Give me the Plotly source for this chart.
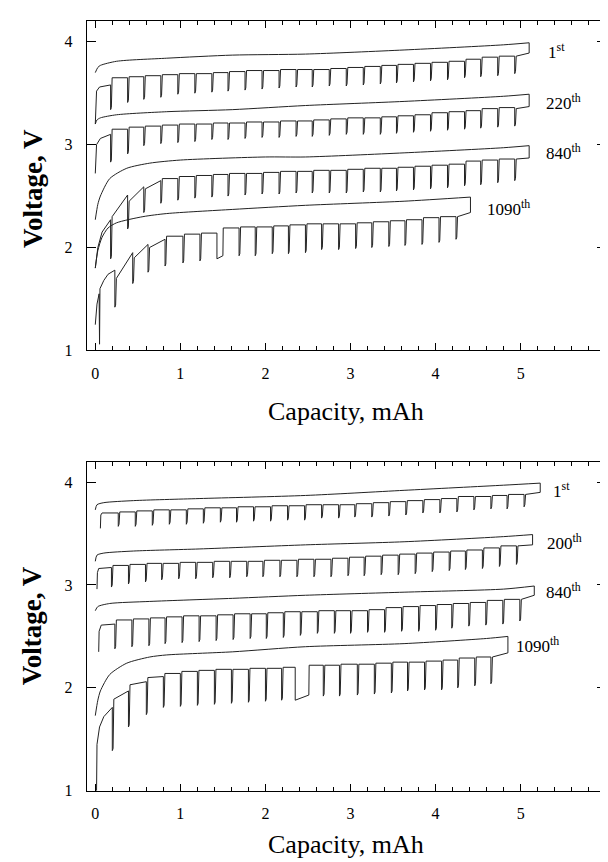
import plotly.graph_objects as go

# ---------------- DATA ----------------
# ---- top panel ----
top_teeth = [0.18, 0.38, 0.57, 0.77, 0.97, 1.17, 1.37, 1.56, 1.76, 1.96, 2.16, 2.36, 2.55,
             2.75, 2.95, 3.15, 3.35, 3.54, 3.74, 3.94, 4.14, 4.34, 4.53, 4.73, 4.93]

t1_up_x = [0, 0.03, 0.06, 0.25, 0.84, 1.61, 2.47, 3.63, 4.8, 5.1]
t1_up_v = [3.70, 3.75, 3.77, 3.81, 3.84, 3.87, 3.88, 3.92, 3.97, 3.99]
t1_start_x = [0.0, 0.005, 0.015, 0.05, 0.18]
t1_start_v = [3.20, 3.40, 3.52, 3.56, 3.58]
t1_top = [3.58, 3.65, 3.66, 3.67, 3.68, 3.69, 3.69, 3.70, 3.71, 3.72, 3.72, 3.73, 3.73,
          3.73, 3.74, 3.75, 3.76, 3.77, 3.78, 3.79, 3.80, 3.81, 3.83, 3.85, 3.86]
t1_bot = [3.34, 3.41, 3.44, 3.46, 3.49, 3.50, 3.51, 3.52, 3.53, 3.54, 3.55, 3.56, 3.56,
          3.57, 3.57, 3.58, 3.59, 3.60, 3.61, 3.62, 3.63, 3.65, 3.66, 3.67, 3.69]
t1_fin = [3.86, 3.89]

t220_up_x = [0, 0.02, 0.06, 0.25, 0.84, 1.61, 2.47, 3.63, 4.8, 5.1]
t220_up_v = [3.20, 3.24, 3.26, 3.29, 3.32, 3.34, 3.38, 3.42, 3.47, 3.49]
t220_start_x = [0.0, 0.005, 0.015, 0.06, 0.18]
t220_start_v = [2.72, 2.90, 3.00, 3.06, 3.10]
t220_top = [3.10, 3.15, 3.17, 3.18, 3.19, 3.20, 3.20, 3.21, 3.21, 3.22, 3.22, 3.23, 3.23,
            3.24, 3.25, 3.26, 3.26, 3.27, 3.28, 3.29, 3.31, 3.32, 3.33, 3.35, 3.36]
t220_bot = [2.83, 2.91, 2.99, 3.01, 3.02, 3.03, 3.05, 3.05, 3.06, 3.07, 3.07, 3.08, 3.08,
            3.09, 3.10, 3.10, 3.10, 3.11, 3.12, 3.13, 3.14, 3.15, 3.16, 3.17, 3.18]
t220_fin = [3.35, 3.37]

t840_up_x = [0, 0.03, 0.06, 0.17, 0.37, 0.64, 1.0, 2.0, 2.47, 3.63, 4.8, 5.1]
t840_up_v = [2.27, 2.42, 2.50, 2.67, 2.77, 2.82, 2.85, 2.88, 2.88, 2.92, 2.97, 2.99]
t840_start_x = [0.0, 0.03, 0.08, 0.18]
t840_start_v = [1.80, 2.00, 2.15, 2.27]
t840_top = [2.27, 2.51, 2.59, 2.65, 2.67, 2.69, 2.70, 2.71, 2.72, 2.72, 2.73, 2.74, 2.74,
            2.75, 2.75, 2.76, 2.77, 2.77, 2.78, 2.79, 2.80, 2.81, 2.84, 2.85, 2.86]
t840_bot = [1.89, 2.18, 2.34, 2.43, 2.46, 2.48, 2.49, 2.50, 2.51, 2.52, 2.52, 2.53, 2.53,
            2.53, 2.53, 2.54, 2.54, 2.55, 2.56, 2.57, 2.58, 2.60, 2.61, 2.63, 2.65]
t840_rise = [2.30, 2.45, 2.57]
t840_fin = [2.86, 2.87]

t1090_teeth = [0.23, 0.44, 0.62, 0.82, 1.03, 1.23, 1.43, 1.69, 1.88, 2.08, 2.27, 2.47,
               2.66, 2.86, 3.06, 3.25, 3.45, 3.64, 3.84, 4.04, 4.24]
t1090_up_x = [0, 0.03, 0.08, 0.15, 0.25, 0.56, 0.84, 1.61, 2.47, 3.63, 4.41]
t1090_up_v = [1.80, 1.97, 2.10, 2.19, 2.24, 2.30, 2.33, 2.37, 2.41, 2.45, 2.49]
t1090_start_x = [0.0, 0.02, 0.045, 0.05, 0.055, 0.1, 0.15, 0.23]
t1090_start_v = [1.25, 1.45, 1.55, 1.06, 1.60, 1.68, 1.74, 1.78]
t1090_top = [1.78, 1.95, 2.03, 2.08, 2.11, 2.13, 2.14, 2.19, 2.20, 2.20, 2.21, 2.22,
             2.23, 2.23, 2.23, 2.24, 2.25, 2.26, 2.27, 2.29, 2.30]
t1090_bot = [1.42, 1.65, 1.76, 1.82, 1.85, 1.87, 1.89, 1.92, 1.92, 1.94, 1.94, 1.95,
             1.98, 1.98, 1.99, 2.00, 2.01, 2.02, 2.03, 2.05, 2.08]
t1090_rise = [1.70, 1.90, 2.00]
t1090_gap = [6, 1.50, 1.92]          # tooth index, x and voltage where it recovers
t1090_fin = [2.30, 2.34]

# ---- bottom panel ----
b1_teeth = [0.27, 0.47, 0.67, 0.87, 1.07, 1.27, 1.47, 1.66, 1.86, 2.06, 2.26, 2.46, 2.66,
            2.86, 3.05, 3.25, 3.45, 3.65, 3.85, 4.05, 4.25, 4.45, 4.65, 4.84, 5.04]
b1_up_x = [0, 0.02, 0.1, 0.45, 1.22, 2.47, 3.63, 4.8, 5.23]
b1_up_v = [3.73, 3.78, 3.80, 3.82, 3.84, 3.87, 3.92, 3.97, 3.99]
b1_start_x = [0.06, 0.065, 0.08, 0.27]
b1_start_v = [3.55, 3.68, 3.70, 3.70]
b1_top = [3.70, 3.71, 3.72, 3.73, 3.73, 3.74, 3.75, 3.75, 3.76, 3.76, 3.77, 3.77, 3.78,
          3.78, 3.78, 3.79, 3.80, 3.81, 3.82, 3.83, 3.84, 3.86, 3.86, 3.87, 3.88]
b1_bot = [3.57, 3.57, 3.58, 3.59, 3.59, 3.60, 3.61, 3.61, 3.62, 3.62, 3.63, 3.63, 3.65,
          3.65, 3.66, 3.66, 3.67, 3.68, 3.70, 3.70, 3.71, 3.73, 3.74, 3.74, 3.76]
b1_fin = [3.88, 3.90]

b200_teeth = [0.19, 0.39, 0.59, 0.78, 0.98, 1.18, 1.38, 1.58, 1.78, 1.97, 2.17, 2.37, 2.57,
              2.77, 2.97, 3.16, 3.36, 3.56, 3.76, 3.96, 4.16, 4.35, 4.55, 4.75, 4.95]
b200_up_x = [0, 0.02, 0.1, 0.45, 1.22, 2.47, 3.63, 4.8, 5.14]
b200_up_v = [3.23, 3.29, 3.31, 3.33, 3.35, 3.39, 3.42, 3.47, 3.49]
b200_start_x = [0.02, 0.025, 0.04, 0.19]
b200_start_v = [2.96, 3.12, 3.16, 3.17]
b200_top = [3.17, 3.19, 3.20, 3.21, 3.21, 3.22, 3.22, 3.23, 3.23, 3.23, 3.24, 3.24, 3.25,
            3.25, 3.26, 3.27, 3.28, 3.29, 3.30, 3.31, 3.32, 3.33, 3.34, 3.36, 3.38]
b200_bot = [2.98, 3.01, 3.03, 3.05, 3.06, 3.06, 3.07, 3.07, 3.08, 3.08, 3.08, 3.08, 3.08,
            3.08, 3.09, 3.09, 3.10, 3.10, 3.11, 3.13, 3.14, 3.15, 3.16, 3.18, 3.20]
b200_fin = [3.38, 3.39]

b840_teeth = [0.23, 0.43, 0.63, 0.82, 1.02, 1.22, 1.42, 1.62, 1.82, 2.01, 2.21, 2.41, 2.61,
              2.81, 3.00, 3.20, 3.40, 3.60, 3.80, 4.00, 4.19, 4.39, 4.59, 4.79, 4.99]
b840_up_x = [0, 0.03, 0.17, 0.64, 1.61, 2.47, 3.63, 4.8, 5.16]
b840_up_v = [2.75, 2.79, 2.82, 2.84, 2.87, 2.90, 2.93, 2.96, 2.99]
b840_start_x = [0.04, 0.045, 0.07, 0.23]
b840_start_v = [2.35, 2.55, 2.61, 2.62]
b840_top = [2.62, 2.66, 2.67, 2.68, 2.69, 2.70, 2.70, 2.71, 2.72, 2.72, 2.73, 2.74, 2.74,
            2.75, 2.75, 2.75, 2.76, 2.78, 2.79, 2.80, 2.81, 2.82, 2.83, 2.85, 2.86]
b840_bot = [2.38, 2.40, 2.41, 2.43, 2.44, 2.45, 2.46, 2.47, 2.48, 2.48, 2.49, 2.51, 2.53,
            2.53, 2.53, 2.54, 2.54, 2.55, 2.55, 2.56, 2.58, 2.60, 2.61, 2.62, 2.65]
b840_fin = [2.86, 2.90]

b1090_teeth = [0.20, 0.39, 0.60, 0.80, 1.00, 1.20, 1.40, 1.60, 1.80, 2.00, 2.19, 2.35,
               2.68, 2.87, 3.08, 3.28, 3.48, 3.67, 3.87, 4.07, 4.26, 4.46, 4.65]
b1090_up_x = [0, 0.03, 0.06, 0.17, 0.37, 0.64, 0.84, 1.61, 2.47, 3.63, 4.6, 4.85]
b1090_up_v = [1.73, 1.88, 1.97, 2.13, 2.24, 2.30, 2.32, 2.35, 2.40, 2.43, 2.48, 2.50]
b1090_start_x = [0.015, 0.02, 0.05, 0.1, 0.2]
b1090_start_v = [1.0, 1.45, 1.62, 1.72, 1.81]
b1090_top = [1.81, 1.97, 2.06, 2.11, 2.14, 2.16, 2.17, 2.18, 2.18, 2.19, 2.19, 2.20,
             2.22, 2.22, 2.23, 2.23, 2.24, 2.25, 2.25, 2.26, 2.27, 2.29, 2.30]
b1090_bot = [1.39, 1.62, 1.74, 1.81, 1.82, 1.83, 1.84, 1.85, 1.86, 1.87, 1.88, 1.88,
             1.92, 1.92, 1.93, 1.94, 1.95, 1.97, 1.98, 1.98, 2.00, 2.02, 2.04]
b1090_rise = [1.89, 2.03, 2.10]
b1090_gap = [11, 2.51, 1.93]
b1090_fin = [2.30, 2.34]

top_labels = ["1<sup>st</sup>", "220<sup>th</sup>", "840<sup>th</sup>", "1090<sup>th</sup>"]
top_label_x = [5.30, 5.28, 5.27, 4.58]
top_label_v = [3.91, 3.41, 2.93, 2.38]
bot_labels = ["1<sup>st</sup>", "200<sup>th</sup>", "840<sup>th</sup>", "1090<sup>th</sup>"]
bot_label_x = [5.36, 5.29, 5.28, 4.92]
bot_label_v = [3.92, 3.42, 2.94, 2.42]

x_ticks = [0, 1, 2, 3, 4, 5, 6]
y_ticks = [1, 2, 3, 4]


# ---------------- construction ----------------
def pulse_path(teeth, start_x, start_v, top, bot, fin, end_x, end_up, rise=None, gap=None):
    w = 0.018
    xs = list(start_x)
    vs = list(start_v)
    n = len(teeth)
    for k in range(n):
        xs.append(teeth[k]); vs.append(bot[k])
        nxt = top[k + 1] if k + 1 < n else fin[0]
        if gap is not None and k == gap[0]:
            xs.append(gap[1]); vs.append(gap[2])
            xs.append(gap[1] + 0.004); vs.append(nxt)
        else:
            xs.append(teeth[k] + w * 0.5); vs.append(bot[k] + 0.02)
            xs.append(teeth[k] + w)
            vs.append(rise[k] if (rise is not None and k < len(rise)) else nxt)
        if k + 1 < n:
            xs.append(teeth[k + 1]); vs.append(top[k + 1])
    xs.append(end_x); vs.append(fin[1])
    xs.append(end_x); vs.append(end_up)
    return xs, vs


LINE = dict(color="#222222", width=1)
fig = go.Figure()

panels = [
    ("x", "y", [
        (top_teeth, t1_start_x, t1_start_v, t1_top, t1_bot, t1_fin, t1_up_x, t1_up_v, None, None),
        (top_teeth, t220_start_x, t220_start_v, t220_top, t220_bot, t220_fin, t220_up_x, t220_up_v, None, None),
        (top_teeth, t840_start_x, t840_start_v, t840_top, t840_bot, t840_fin, t840_up_x, t840_up_v, t840_rise, None),
        (t1090_teeth, t1090_start_x, t1090_start_v, t1090_top, t1090_bot, t1090_fin, t1090_up_x, t1090_up_v, t1090_rise, t1090_gap),
    ]),
    ("x2", "y2", [
        (b1_teeth, b1_start_x, b1_start_v, b1_top, b1_bot, b1_fin, b1_up_x, b1_up_v, None, None),
        (b200_teeth, b200_start_x, b200_start_v, b200_top, b200_bot, b200_fin, b200_up_x, b200_up_v, None, None),
        (b840_teeth, b840_start_x, b840_start_v, b840_top, b840_bot, b840_fin, b840_up_x, b840_up_v, None, None),
        (b1090_teeth, b1090_start_x, b1090_start_v, b1090_top, b1090_bot, b1090_fin, b1090_up_x, b1090_up_v, b1090_rise, b1090_gap),
    ]),
]

for xa, ya, cycles in panels:
    for (teeth, sx, sv, top, bot, fin, ux, uv, rise, gap) in cycles:
        px, pv = pulse_path(teeth, sx, sv, top, bot, fin, ux[-1], uv[-1], rise, gap)
        fig.add_trace(go.Scatter(x=px, y=pv, mode="lines", line=LINE, xaxis=xa, yaxis=ya,
                                 showlegend=False, hoverinfo="skip"))
        fig.add_trace(go.Scatter(x=ux, y=uv, mode="lines", xaxis=xa, yaxis=ya,
                                 line=dict(color="#222222", width=1, shape="spline", smoothing=0.7),
                                 showlegend=False, hoverinfo="skip"))

FONT = "Liberation Serif, Times New Roman, serif"
W, H = 608, 862

for lab, lx, lv in zip(top_labels, top_label_x, top_label_v):
    fig.add_annotation(x=lx, y=lv, xref="x", yref="y", text=lab, showarrow=False,
                       xanchor="left", yanchor="middle", font=dict(family=FONT, size=17, color="black"))
for lab, lx, lv in zip(bot_labels, bot_label_x, bot_label_v):
    fig.add_annotation(x=lx, y=lv, xref="x2", yref="y2", text=lab, showarrow=False,
                       xanchor="left", yanchor="middle", font=dict(family=FONT, size=17, color="black"))


def xax(dom, anchor):
    return dict(domain=dom, anchor=anchor, range=[-0.1, 6], tickvals=x_ticks,
                ticks="inside", ticklen=7, tickwidth=1, tickcolor="black",
                minor=dict(dtick=0.2, tick0=0, ticks="inside", ticklen=4, tickcolor="black", tickwidth=1),
                showline=True, linecolor="black", linewidth=1, mirror="ticks",
                showgrid=False, zeroline=False, ticklabelstandoff=8,
                tickfont=dict(family=FONT, size=16, color="black"))


def yax(dom, anchor):
    return dict(domain=dom, anchor=anchor, range=[1, 4.2], tickvals=y_ticks,
                ticks="inside", ticklen=9, tickwidth=1, tickcolor="black",
                showline=True, linecolor="black", linewidth=1, mirror="ticks",
                showgrid=False, zeroline=False, ticklabelstandoff=10,
                tickfont=dict(family=FONT, size=16, color="black"))


xd = [79.3 / W, 601.7 / W]
fig.update_layout(
    width=W, height=H, margin=dict(l=0, r=0, t=0, b=0),
    paper_bgcolor="white", plot_bgcolor="white",
    xaxis=xax(xd, "y"), yaxis=yax([1 - 346 / H, 1 - 13.3 / H], "x"),
    xaxis2=xax(xd, "y2"), yaxis2=yax([1 - 791 / H, 1 - 458.3 / H], "x2"),
)

for cy_title_x, cy_title_y in [(408, 182), (845, 624)]:
    fig.add_annotation(x=340.5 / W, y=1 - cy_title_x / H, xref="paper", yref="paper",
                       text="Capacity, mAh", showarrow=False, xanchor="center", yanchor="middle",
                       font=dict(family=FONT, size=26, color="black"))
    fig.add_annotation(x=25 / W, y=1 - cy_title_y / H, xref="paper", yref="paper",
                       text="<b>Voltage, V</b>", showarrow=False, textangle=-90,
                       xanchor="center", yanchor="middle",
                       font=dict(family=FONT, size=27, color="black"))

fig.write_html("out.html")
